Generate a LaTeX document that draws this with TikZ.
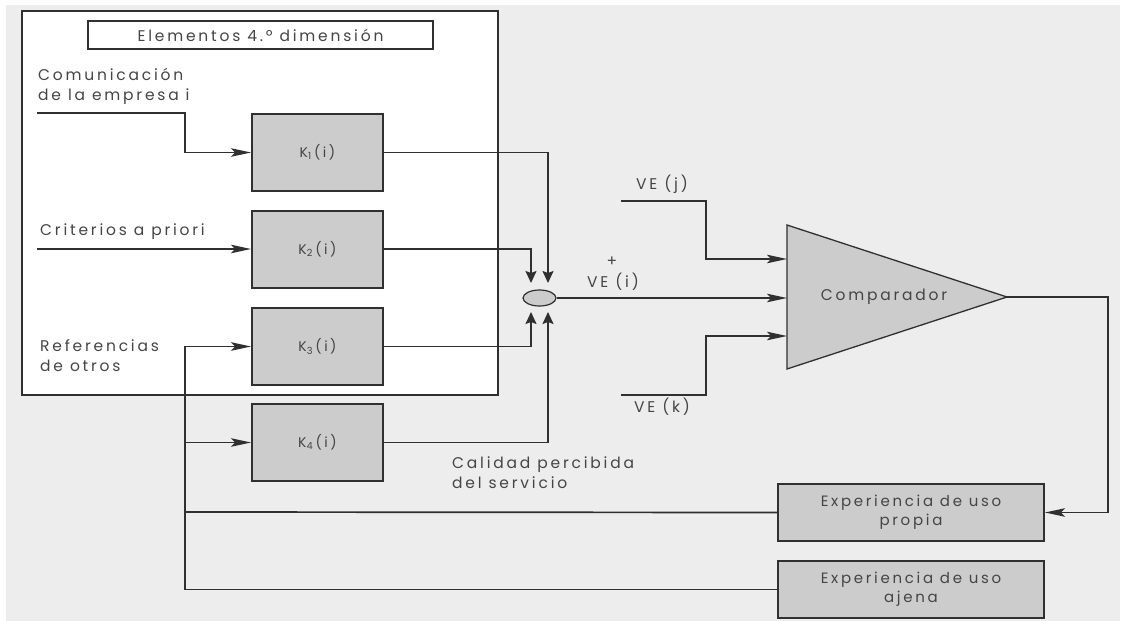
\documentclass[tikz,border=0pt]{standalone}
\usepackage{fontspec}
\setmainfont{Poppins}[LetterSpace=18]
\usetikzlibrary{positioning,arrows.meta,shapes.geometric,calc}
\definecolor{paper}{HTML}{EDEDED}
\definecolor{boxgray}{HTML}{CCCCCC}
\definecolor{ink}{HTML}{303030}
\definecolor{txt}{HTML}{454545}

\tikzset{
  lbl/.style={text=txt, font=\fontsize{15.5}{20}\selectfont, align=left, inner sep=0pt},
  kbox/.style={draw=ink, fill=boxgray, line width=2pt, minimum width=131pt,
               minimum height=77pt, text=txt, font=\fontsize{14}{16}\selectfont},
  expbox/.style={kbox, minimum width=266pt, minimum height=57pt, align=center,
                 font=\fontsize{15}{19}\selectfont},
  wire/.style={draw=ink, line width=1.7pt},
  arr/.style={wire, -{Stealth[length=20pt,width=8.5pt,inset=4pt]}},
  sarr/.style={wire, -{Stealth[length=12pt,width=11pt,inset=2pt]}},
}

\begin{document}
\begin{tikzpicture}[x=1pt, y=-1pt]
  \useasboundingbox (0,0) rectangle (1125,621);
  \fill[white] (0,0) rectangle (1125,621);
  \fill[paper] (6,5) rectangle (1120,621);

  % elementos de la cuarta dimension
  \draw[ink, fill=white, line width=2pt] (22,11) rectangle (498,395);
  \node[draw=ink, line width=1.8pt, minimum width=345pt, minimum height=28pt,
        text=txt, font=\fontsize{15.5}{18}\selectfont] (titulo) at (260.5,35) {Elementos 4.º dimensión};

  \node[kbox] (K1) at (317.5,152.5) {K\textsubscript{1}\,(i)};
  \node[kbox] (K2) at (317.5,249) {K\textsubscript{2}\,(i)};
  \node[kbox] (K3) at (317.5,346.5) {K\textsubscript{3}\,(i)};
  \node[kbox] (K4) at (317.5,442.5) {K\textsubscript{4}\,(i)};

  \node[lbl, anchor=north west] (lcom) at (38,68) {Comunicación\\de la empresa i};
  \node[lbl, anchor=west] (lcri) at (40,232) {Criterios a priori};
  \node[lbl, anchor=north west] (lref) at (40,339) {Referencias\\de otros};
  \node[lbl, anchor=north west] (lcal) at (452,456) {Calidad percibida\\del servicio};

  \coordinate (in1) at (37,113);
  \coordinate (in2) at (37,249);
  \coordinate (ret) at (185,512);
  \draw[arr] (in1) -- (in1 -| ret) |- (K1.west);
  \draw[arr] (in2) -- (K2.west);

  % suma
  \node[ellipse, draw=ink, fill=boxgray, line width=1.2pt, minimum width=33pt,
        minimum height=16pt, inner sep=0pt] (suma) at (539.5,298) {};
  \coordinate (s1) at ($(suma.center)+(8.5,-15)$);
  \coordinate (s2) at ($(suma.center)+(-8.5,-15)$);
  \coordinate (s3) at ($(suma.center)+(-8.5,14)$);
  \coordinate (s4) at ($(suma.center)+(8.5,14)$);
  \draw[sarr] (K1.east) -| (s1);
  \draw[sarr] (K2.east) -| (s2);
  \draw[sarr] (K3.east) -| (s3);
  \draw[sarr] (K4.east) -| (s4);

  % comparador
  \coordinate (cA) at (787,225);
  \coordinate (cB) at (787,369);
  \coordinate (cC) at (1007,297);
  \filldraw[draw=ink, fill=boxgray, line width=1.3pt] (cA) -- (cC) -- (cB) -- cycle;
  \node[lbl] (comp) at (884,297) {Comparador};

  \node[lbl] (mas) at (612,262) {+};
  \node[lbl] (lvei) at (613,282) {VE (i)};
  \node[lbl] (lvej) at (662,184) {VE (j)};
  \node[lbl] (lvek) at (662,407) {VE (k)};
  \coordinate (vej) at (621,201);
  \coordinate (vek) at (621,395);
  \coordinate (ej) at (787,259);
  \coordinate (ek) at (787,336);
  \draw[arr] (suma.east) -- (suma.east -| cA);
  \draw[arr] (vej) -- ++(85,0) |- (ej);
  \draw[arr] (vek) -- ++(85,0) |- (ek);

  % experiencia
  \node[expbox] (propia) at (911,512.5) {Experiencia de uso\\propia};
  \node[expbox] (ajena) at (911,589.5) {Experiencia de uso\\ajena};
  \coordinate (fb) at (1108,297);
  \draw[arr] (cC) -- (fb) |- (propia.east);
  \draw[wire] (propia.west) -- (ret);
  \draw[arr] (ajena.west) -| (ret |- K3.west) -- (K3.west);
  \draw[arr] (ret |- K4.west) -- (K4.west);
\end{tikzpicture}
\end{document}
